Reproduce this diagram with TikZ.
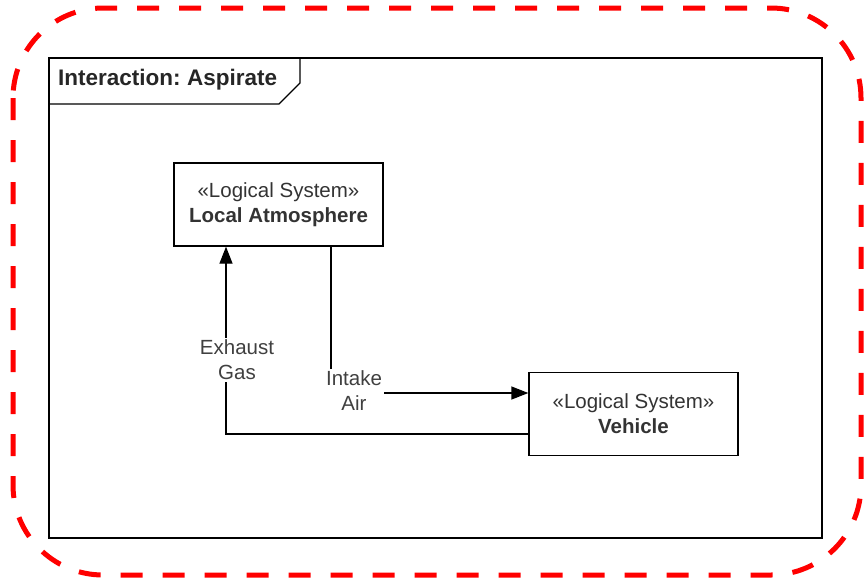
\documentclass[tikz,border=0pt]{standalone}
\usepackage{fontspec}
\setmainfont{Liberation Sans}
\usetikzlibrary{arrows.meta,positioning}

\begin{document}
\begin{tikzpicture}[x=1pt,y=-1pt,
    block/.style={draw,line width=1.3pt,minimum width=209pt,minimum height=83pt,
                  align=center,font=\fontsize{20.5}{25}\selectfont,text=black!80,inner sep=0pt},
    flowlabel/.style={fill=white,align=center,font=\fontsize{20.5}{25}\selectfont,text=black!75,inner sep=2pt},
    flow/.style={line width=1.3pt,-{Triangle[length=17pt,width=13pt]}}]
    \useasboundingbox (0,0) rectangle (864,582);
    % outer highlight
    \draw[red,line width=5pt,dash pattern=on 22pt off 20pt,rounded corners=90pt] (13,8) rectangle (861,575);
    % interaction frame
    \draw[line width=1.4pt] (49,58) rectangle (822,538);
    \draw[line width=1.2pt] (300,58) -- (300,83) -- (279,104) -- (49,104);
    \node[anchor=west,inner sep=0pt,font=\fontsize{22.5}{26}\selectfont\bfseries,text=black!85] (title) at (58,80) {Interaction:\hspace{-2pt} Aspirate};
                        \node[block] (atmo) at (278.5,204.5) {«Logical System»\\\textbf{Local Atmosphere}};
                        \node[block] (vehicle) at (633.5,414) {«Logical System»\\\textbf{Vehicle}};
                        \coordinate (exh) at (226,434);
                        \coordinate (int) at (331,393);
                        \draw[flow] (vehicle.west |- exh) -- (exh) -- (atmo.south -| exh);
                        \draw[flow] (atmo.south -| int) -- (int) -- (vehicle.west |- int);
                        \node[flowlabel] (exhlabel) at (237,360) {Exhaust\\Gas};
                        \node[flowlabel] (intlabel) at (354,391) {Intake\\Air};
                    \end{tikzpicture}
\end{document}
